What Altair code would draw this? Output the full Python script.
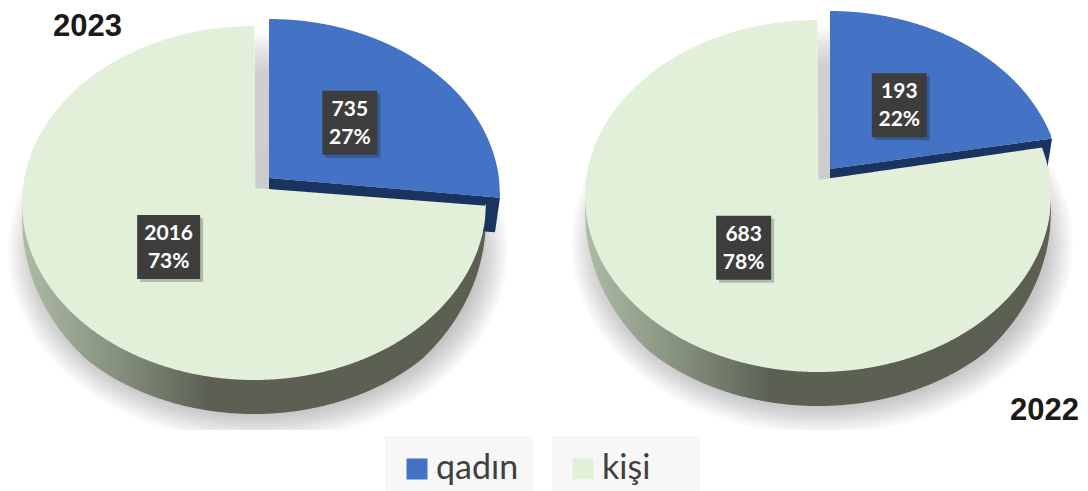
import numpy as np
import pandas as pd
import altair as alt

# ---- values ----
years = ["2023", "2022"]
women = [735, 193]
men = [2016, 683]
women_pct = [27, 22]
men_pct = [73, 78]
series = ["qadın", "kişi"]
colors = ["#4472C4", "#E2F0D9"]

# ---- 3-D look of each pie (in reference pixels) ----
W, H = 1088, 491
GREEN_EL = [(254, 203, 232, 177), (818, 196, 233, 176)]   # cx, cy, rx, ry
BLUE_EL = [(269, 195, 231, 176), (830, 187, 231, 176)]
GREEN_APEX = [(255, 188), (818, 180)]
BLUE_APEX = [(269, 178), (830, 169)]
BLUE_DEPTH = [35, 30]
GREEN_DEPTH = 34
TILT = 5.3  # degrees lost to perspective at the end of the first slice


def upper(el, x):
    cx, cy, rx, ry = el
    return cy - ry * np.sqrt(np.clip(1 - ((x - cx) / rx) ** 2, 0, 1))


def lower(el, x):
    cx, cy, rx, ry = el
    return cy + ry * np.sqrt(np.clip(1 - ((x - cx) / rx) ** 2, 0, 1))


def end_point(el, share):
    cx, cy, rx, ry = el
    t = np.radians(360 * share - TILT)
    return cx + rx * np.sin(t), cy - ry * np.cos(t)


def band(x, y, y2, **extra):
    d = pd.DataFrame({"x": x, "y": y, "y2": y2})
    for k, v in extra.items():
        d[k] = v
    return d


faces, green_walls, blue_walls, gray_walls, shadows, boxes, box_shadows, texts = [], [], [], [], [], [], [], []
for i, year in enumerate(years):
    total = women[i] + men[i]
    share = women[i] / total
    ge, be = GREEN_EL[i], BLUE_EL[i]
    ga, ba = GREEN_APEX[i], BLUE_APEX[i]
    gx, gy = end_point(ge, share)
    bx, by = end_point(be, share)

    # blue slice
    x = np.linspace(ba[0], be[0] + be[2], 260)
    x = x[x <= max(bx, be[0] + be[2] if share > 0.25 else bx)]
    line = ba[1] + (by - ba[1]) * (np.minimum(x, bx) - ba[0]) / (bx - ba[0])
    faces.append(band(x, upper(be, x), line, pie=year, slice=series[0]))

    # green slice
    x = np.linspace(ge[0] - ge[2], ge[0] + ge[2], 520)
    line = ga[1] + (gy - ga[1]) * (x - ga[0]) / (gx - ga[0])
    top = np.where((x >= ga[0]) & (x <= gx), line, upper(ge, x))
    top = np.where(x > gx, np.maximum(upper(ge, x), top), top)
    faces.append(band(x, top, lower(ge, x), pie=year, slice=series[1]))

    # rim of the green slice
    f = 0.35 + 0.65 * np.sqrt(np.clip(1 - ((x - ge[0]) / ge[2]) ** 2, 0, 1))
    green_walls.append(band(x, lower(ge, x) - 2, lower(ge, x) + GREEN_DEPTH * np.minimum(1, f * 1.25), pie=year))

    # dark wall of the blue slice
    x = np.linspace(ba[0], bx, 240)
    line = ba[1] + (by - ba[1]) * (x - ba[0]) / (bx - ba[0])
    dep = BLUE_DEPTH[i]
    bottom = np.where(x > bx - 5, line + dep * (bx - x) / 5, line + dep)
    blue_walls.append(band(x, line, bottom, pie=year))

    # pale cut face seen between the slices
    x = np.array([ga[0], ba[0]], dtype=float)
    gray_walls.append(band(x, [ge[1] - ge[3] + 6] * 2, [ba[1] + 12] * 2, pie=year))

    # soft shadow
    for k in range(10):
        sel = (ge[0] + 4, ge[1] + 48, ge[2] + 18 - 3 * k, ge[3] + 14 - 3 * k)
        x = np.linspace(sel[0] - sel[2], sel[0] + sel[2], 260)
        shadows.append(band(x, upper(sel, x), np.minimum(lower(sel, x), 430), pie=year, k=k))

    # data labels
    mid_w = np.radians(180 * share)
    mid_m = np.radians(360 * share + 180 * (1 - share))
    for val, pct, apex, el, mid, fr in [
        (women[i], women_pct[i], ba, be, mid_w, 0.47),
        (men[i], men_pct[i], ga, ge, mid_m, 0.50),
    ]:
        cx = apex[0] + el[2] * np.sin(mid) * fr
        cy = apex[1] - el[3] * np.cos(mid) * fr
        half = 31.5 if val >= 1000 else 27.5
        boxes.append(dict(x=cx - half, x2=cx + half, y=cy - 32, y2=cy + 32))
        box_shadows.append(dict(x=cx - half + 3, x2=cx + half + 3, y=cy - 29, y2=cy + 35))
        texts.append(dict(x=cx, y=cy - 13, t=str(val)))
        texts.append(dict(x=cx, y=cy + 15, t=f"{pct}%"))

face_df = pd.concat(faces, ignore_index=True)
green_df = pd.concat(green_walls, ignore_index=True)
blue_df = pd.concat(blue_walls, ignore_index=True)
gray_df = pd.concat(gray_walls, ignore_index=True)
shadow_df = pd.concat(shadows, ignore_index=True)
shadow_df["g"] = shadow_df["pie"] + "-" + shadow_df["k"].astype(str)

X = alt.X("x:Q", axis=None, scale=alt.Scale(domain=[8, W - 8], nice=False, zero=False))
Y = alt.Y("y:Q", axis=None, scale=alt.Scale(domain=[H, 8], nice=False, zero=False))
Y2 = alt.Y2("y2:Q")


def stops(*pairs):
    return [alt.GradientStop(offset=o, color=c) for o, c in pairs]


shadow = alt.Chart(shadow_df).mark_area(orient="vertical", color="#000000", opacity=0.022).encode(
    x=X, y=Y, y2=Y2, detail="g:N"
)
green_wall = alt.Chart(green_df).mark_area(
    orient="vertical",
    color=alt.Gradient(
        gradient="linear", x1=0, x2=1, y1=0, y2=0,
        stops=stops((0, "#AEBBA6"), (0.23, "#808A78"), (0.40, "#5B6053"), (1, "#5B6053")),
    ),
).encode(x=X, y=Y, y2=Y2, detail="pie:N")
gray_wall = alt.Chart(gray_df).mark_area(
    orient="vertical",
    color=alt.Gradient(
        gradient="linear", x1=0, x2=0, y1=0, y2=1,
        stops=stops((0, "#FFFFFF"), (0.12, "#E4E4E4"), (0.25, "#CFCFCF"), (1, "#CCCCCC")),
    ),
).encode(x=X, y=Y, y2=Y2, detail="pie:N")
blue_wall = alt.Chart(blue_df).mark_area(orient="vertical", color="#1B3360").encode(
    x=X, y=Y, y2=Y2, detail="pie:N"
)
face = alt.Chart(face_df).mark_area(orient="vertical").encode(
    x=X, y=Y, y2=Y2, detail="pie:N",
    color=alt.Color(
        "slice:N",
        scale=alt.Scale(domain=series, range=colors),
        legend=alt.Legend(
            orient="none", legendX=392, legendY=444, direction="horizontal", columns=2,
            title=None, symbolType="square", symbolSize=441, symbolStrokeWidth=0,
            labelFont="Lato", labelFontSize=34, labelColor="#404040", labelOffset=2,
            columnPadding=47, padding=0,
        ),
    ),
)

legend_bg = alt.Chart(pd.DataFrame({"x": [385, 552], "x2": [533, 700], "y": [436, 436], "y2": [491, 491]})).mark_rect(
    color="#F7F7F7"
).encode(x=X, x2="x2:Q", y=Y, y2=Y2)

label_shadow = alt.Chart(pd.DataFrame(box_shadows)).mark_rect(color="#000000", opacity=0.22).encode(
    x=X, x2="x2:Q", y=Y, y2=Y2
)
label_box = alt.Chart(pd.DataFrame(boxes)).mark_rect(color="#3D3D3D").encode(x=X, x2="x2:Q", y=Y, y2=Y2)
label_text = alt.Chart(pd.DataFrame(texts)).mark_text(
    font="Lato", fontWeight="bold", fontSize=21, color="#FFFFFF", baseline="middle", align="center"
).encode(x=X, y=Y, text="t:N")

# the page leaves the chart 1072 px wide, so the right-hand title stops at its edge
titles = alt.Chart(pd.DataFrame({"x": [122, 1079], "y": [36, 420], "t": years})).mark_text(
    font="Liberation Sans", fontWeight="bold", fontSize=31, color="#1A1A1A", align="right", baseline="alphabetic"
).encode(x=X, y=Y, text="t:N")

chart = (
    alt.layer(shadow, green_wall, gray_wall, blue_wall, legend_bg, face, label_shadow, label_box, label_text, titles)
    .properties(width=W - 16, height=H - 8, padding=0, autosize=alt.AutoSizeParams(type="none"))
    .configure_view(stroke=None)
)
chart.save("out.html", embed_options={"renderer": "svg", "actions": False})
